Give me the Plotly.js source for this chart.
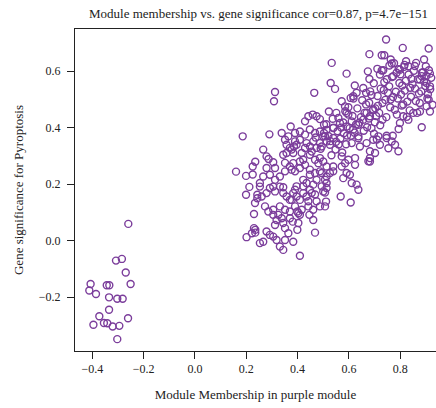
<!DOCTYPE html>
<html>
<head>
<meta charset="utf-8">
<script src="https://cdn.plot.ly/plotly-3.0.1.min.js"></script>
<style>
html,body{margin:0;padding:0;background:#fff;overflow:hidden;}
#chart{width:436px;height:408px;}
</style>
</head>
<body>
<div id="chart"></div>
<script>
// Negative-membership cluster
const lowX = [-0.26,-0.308,-0.285,-0.27,-0.407,-0.344,-0.334,-0.251,-0.412,-0.386,-0.335,-0.303,-0.282,-0.335,-0.373,-0.261,-0.396,-0.355,-0.342,-0.321,-0.295,-0.303];
const lowY = [0.059,-0.071,-0.065,-0.113,-0.154,-0.158,-0.158,-0.154,-0.177,-0.189,-0.201,-0.206,-0.206,-0.245,-0.268,-0.275,-0.298,-0.292,-0.293,-0.304,-0.302,-0.349];

// Left, sparse part of main cloud
const leftX = [0.235,0.225,0.160,0.199,0.225,0.212,0.253,0.199,0.243,0.243,0.230,0.230,0.235,0.201,0.222,0.235,0.253,0.186,0.290,0.308,0.373];
const leftY = [0.279,0.262,0.244,0.229,0.234,0.190,0.191,0.162,0.162,0.150,0.094,0.044,0.038,0.012,0.026,0.028,-0.009,0.369,0.376,0.493,0.404];

// Upper middle
const midUpX = [0.533,0.591,0.529,0.546,0.312,0.465,0.572,0.585,0.591,0.522,0.429,0.442,0.459,0.474,0.487,0.503,
  0.266,0.279,0.279,0.312,0.344,0.370,0.383,0.351,0.377,0.422,0.468,0.539,
  0.52,0.54,0.56,0.58,0.55,0.57];
const midUpY = [0.629,0.591,0.558,0.537,0.526,0.523,0.493,0.475,0.452,0.457,0.422,0.44,0.446,0.44,0.43,0.41,
  0.322,0.298,0.257,0.257,0.304,0.328,0.31,0.275,0.251,0.286,0.239,0.262,
  0.37,0.40,0.34,0.38,0.35,0.40];

// Lower middle
const midLowX = [0.468,0.409,0.383,0.399,0.381,0.409,0.399,0.446,0.568,0.607,0.507,0.511,0.507,0.513,0.63,0.637,0.611,0.578,0.591,0.572,0.585,0.624,0.682,
  0.383,0.409,0.429,0.448,0.481,0.5,0.513,0.526,0.539,0.494,0.507,0.513,0.494,0.5,0.422,0.435,0.422,0.461,0.455,0.468,0.448,0.396,0.383,0.396,0.377,0.409,0.442,0.474,0.39,0.403,0.416,0.37];
const midLowY = [0.028,-0.054,-0.004,0.038,0.067,0.091,0.103,0.091,0.156,0.135,0.121,0.138,0.17,0.186,0.198,0.18,0.204,0.221,0.239,0.262,0.274,0.268,0.28,
  0.274,0.28,0.268,0.251,0.274,0.28,0.262,0.239,0.245,0.239,0.215,0.204,0.192,0.174,0.215,0.204,0.192,0.198,0.168,0.163,0.18,0.192,0.168,0.156,0.144,0.144,0.139,0.139,0.121,0.097,0.109,0.103];

// Central body
const bodyX = [0.26,0.279,0.292,0.305,0.312,0.331,0.344,0.344,0.357,0.37,0.39,0.422,0.435,
  0.266,0.279,0.292,0.305,0.312,0.318,0.305,0.325,0.338,0.344,0.351,0.364,0.37,0.403,0.461,0.344,0.318,0.331,0.351,
  0.234,0.273,0.286,0.305,0.331,0.351,0.442,0.461,0.487,
  0.357,0.377,0.396,0.416,0.429,0.448,0.468,0.487,0.409,0.39,0.37,0.351,0.331,0.312,0.292,0.266,0.253,0.513,0.487,0.448,0.474,
  0.357,0.351,0.364,0.39,0.409,0.429,0.448,0.468,0.487,0.5,0.513,0.487,0.461,0.435,0.409,0.39,0.448,0.474,0.338,
  0.287,0.305,0.386,0.47,0.49,0.455];
const bodyY = [0.156,0.168,0.186,0.191,0.174,0.191,0.189,0.168,0.156,0.144,0.18,0.168,0.156,
  -0.004,0.032,0.020,0.014,0.055,0.073,0.091,0.091,0.079,0.062,0.044,0.026,0.079,0.062,0.073,-0.033,0.002,-0.021,0.002,
  0.133,0.121,0.103,0.109,0.121,0.109,0.121,0.109,0.121,
  0.31,0.322,0.339,0.31,0.328,0.304,0.286,0.292,0.257,0.245,0.262,0.245,0.227,0.215,0.233,0.227,0.204,0.227,0.245,0.233,0.215,
  0.339,0.357,0.369,0.381,0.386,0.375,0.393,0.381,0.386,0.369,0.351,0.345,0.351,0.345,0.357,0.351,0.333,0.328,0.381,
  0.289,0.277,0.333,0.365,0.325,0.315];

// Right band
const bandX = [0.607,0.617,0.63,
  0.559,0.565,0.539,0.513,0.598,0.611,0.591,0.617,0.637,0.656,0.669,0.682,0.695,0.637,0.611,0.643,0.669,0.695,0.715,0.747,0.767,0.793,0.78,0.754,0.721,0.682,0.682,0.676,0.702,0.624,0.598,0.572,0.604,0.494,0.526,0.507,0.539,
  0.903,0.851,0.832,0.812,0.799];
const bandY = [0.505,0.511,0.523,
  0.434,0.416,0.398,0.392,0.446,0.422,0.404,0.393,0.41,0.428,0.452,0.44,0.464,0.369,0.345,0.333,0.345,0.357,0.369,0.363,0.351,0.316,0.339,0.327,0.339,0.316,0.292,0.281,0.31,0.292,0.286,0.298,0.233,0.333,0.339,0.369,0.363,
  0.475,0.452,0.428,0.44,0.416];

// Upper-right top edge
const topX = [0.745,0.81,0.911,0.68,0.728,0.738,0.763,0.767,0.758,0.823,0.862,0.893,0.9,0.916,0.674,0.711,0.68,0.623,0.656,0.667,0.734,0.721,0.799,0.815,0.832,0.786,0.773,0.884,0.877,0.903,0.916,0.911,0.916,0.877,0.884,0.794,0.747,0.771];
const topY = [0.712,0.682,0.68,0.66,0.656,0.656,0.641,0.627,0.62,0.635,0.629,0.641,0.617,0.591,0.599,0.608,0.572,0.549,0.540,0.523,0.603,0.588,0.605,0.615,0.617,0.594,0.582,0.582,0.57,0.558,0.546,0.499,0.457,0.457,0.401,0.395,0.371,0.371];

// Dense core
const coreX = [0.703,0.712,0.724,0.731,0.738,0.752,0.761,0.768,0.783,0.791,0.797,0.812,0.818,0.833,0.842,0.848,0.861,0.869,0.882,0.889,0.898,0.908,0.921,0.697,0.718,0.742,0.757,0.779,0.803,0.822,0.837,0.858,0.876,0.902,0.917,0.728,0.748,0.772,0.794,0.808,0.828,0.853,0.873,0.893,0.912,0.706,0.746,0.787,0.826,0.866,0.688,0.679,0.801,0.844,0.857,0.817,0.776,0.736,0.763,0.806,0.839,0.884,0.906,0.926,
  0.603,0.614,0.622,0.633,0.641,0.652,0.661,0.671,0.683,0.692,0.701,0.713,0.618,0.637,0.658,0.678,0.698,0.722,0.628,0.647,0.667,0.688,0.709,0.731,0.598,0.608,
  0.503,0.512,0.528,0.537,0.548,0.556,0.567,0.578,0.589,0.593,0.532,0.551,0.574,0.586];
const coreY = [0.468,0.512,0.538,0.487,0.561,0.523,0.472,0.579,0.527,0.503,0.558,0.482,0.531,0.588,0.509,0.553,0.494,0.571,0.528,0.596,0.547,0.518,0.576,0.557,0.452,0.498,0.546,0.463,0.517,0.566,0.461,0.538,0.487,0.583,0.536,0.602,0.571,0.508,0.607,0.549,0.492,0.601,0.521,0.563,0.603,0.441,0.437,0.446,0.438,0.452,0.515,0.488,0.589,0.573,0.618,0.622,0.628,0.533,0.499,0.478,0.541,0.594,0.503,0.481,
  0.398,0.441,0.382,0.468,0.418,0.497,0.452,0.401,0.528,0.461,0.419,0.477,0.503,0.362,0.389,0.432,0.378,0.408,0.411,0.437,0.482,0.398,0.358,0.428,0.472,0.371,
  0.381,0.412,0.352,0.431,0.322,0.387,0.361,0.418,0.341,0.372,0.302,0.452,0.312,0.458];

const xTicks = [-0.4,-0.2,0.0,0.2,0.4,0.6,0.8];
const xTickLabels = ['\u22120.4','\u22120.2','0.0','0.2','0.4','0.6','0.8'];
const yTicks = [-0.2,0.0,0.2,0.4,0.6];
const yTickLabels = ['\u22120.2','0.0','0.2','0.4','0.6'];

const mm = [].concat(lowX,leftX,midUpX,midLowX,bodyX,bandX,topX,coreX);
const gs = [].concat(lowY,leftY,midUpY,midLowY,bodyY,bandY,topY,coreY);

const FONT = '"Liberation Serif","Times New Roman",serif';
const trace = {
  x: mm, y: gs, type: 'scatter', mode: 'markers',
  marker: {symbol: 'circle-open', size: 7, color: '#7b3d9b', line: {width: 1.4, color: '#7b3d9b'}},
  hoverinfo: 'skip'
};
const layout = {
  width: 436, height: 408,
  margin: {l: 75, r: 0, t: 29, b: 57},
  paper_bgcolor: '#fff', plot_bgcolor: '#fff',
  showlegend: false,
  font: {family: FONT, size: 12, color: '#222'},
  title: {text: 'Module membership vs. gene significance cor=0.87, p=4.7e\u2212151',
          font: {family: FONT, size: 13, color: '#222'},
          xref: 'container', x: 0.593, xanchor: 'center',
          yref: 'container', y: 0.968, yanchor: 'middle'},
  xaxis: {range: [-0.4678, 0.9396], tickvals: xTicks, ticktext: xTickLabels,
          showgrid: false, zeroline: false, showline: true, mirror: true, linecolor: '#222', linewidth: 1,
          ticks: 'outside', ticklen: 7, tickwidth: 1, tickcolor: '#222',
          tickfont: {family: FONT, size: 12, color: '#222'},
          title: {text: 'Module Membership in purple module', font: {family: FONT, size: 13, color: '#222'}, standoff: 14}},
  yaxis: {range: [-0.391, 0.749], tickvals: yTicks, ticktext: yTickLabels,
          showgrid: false, zeroline: false, showline: true, mirror: false, linecolor: '#222', linewidth: 1,
          ticks: 'outside', ticklen: 7, tickwidth: 1, tickcolor: '#222', ticklabelstandoff: 4,
          tickfont: {family: FONT, size: 12, color: '#222'},
          title: {text: 'Gene significance for Pyroptosis', font: {family: FONT, size: 13, color: '#222'}, standoff: 12}}
};
Plotly.newPlot('chart', [trace], layout, {displayModeBar: false, staticPlot: true});
</script>
</body>
</html>
